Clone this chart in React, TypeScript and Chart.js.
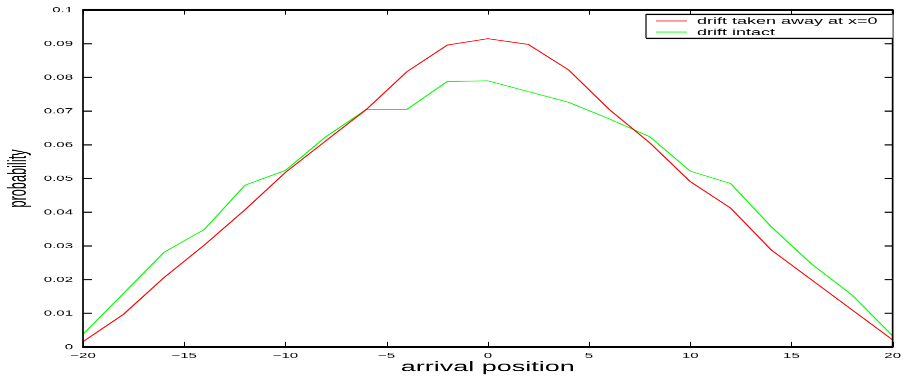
import React, { useEffect, useRef } from "react";
import { Chart, registerables } from "chart.js";

Chart.register(...registerables);

// ---- data ----
const positions = [-20, -18, -16, -14, -12, -10, -8, -6, -4, -2, 0, 2, 4, 6, 8, 10, 12, 14, 16, 18, 20];
const driftRemoved = [0.0016, 0.0097, 0.0206, 0.0303, 0.0407, 0.0518, 0.0612, 0.0705, 0.0817, 0.0896, 0.0915, 0.0898, 0.0822, 0.0705, 0.0606, 0.0491, 0.0412, 0.0288, 0.0199, 0.011, 0.0021];
const driftIntact = [0.0038, 0.0159, 0.0281, 0.0349, 0.048, 0.0524, 0.0624, 0.0705, 0.0705, 0.0788, 0.079, 0.0758, 0.0726, 0.0677, 0.0624, 0.0522, 0.0485, 0.0357, 0.0246, 0.0154, 0.0033];
const xTicks = [-20, -15, -10, -5, 0, 5, 10, 15, 20];
const yTicks = [0, 0.01, 0.02, 0.03, 0.04, 0.05, 0.06, 0.07, 0.08, 0.09, 0.1];
const seriesLabels = ["drift taken away at x=0", "drift intact"];
const seriesColors = ["#ff0000", "#00ff00"];
const xTitle = "arrival position";
const yTitle = "probability";

// internal canvas size (displayed squashed vertically to 909x383)
const W = 909;
const H = 750;
const DISPLAY_H = 383;
const FONT = '"Liberation Sans", Arial, Helvetica, sans-serif';

const framePlugin = {
  id: "frame",
  afterDraw(chart: any) {
    const { ctx, chartArea: a, scales } = chart;
    const xs = scales.x;
    const ys = scales.y;
    ctx.save();
    ctx.strokeStyle = "#000";
    // x ticks (inward, bottom & top)
    ctx.lineWidth = 1;
    xs.ticks.forEach((t: any) => {
      const px = Math.round(xs.getPixelForValue(t.value)) + 0.5;
      ctx.beginPath();
      ctx.moveTo(px, a.bottom);
      ctx.lineTo(px, a.bottom - 10);
      ctx.moveTo(px, a.top);
      ctx.lineTo(px, a.top + 9);
      ctx.stroke();
    });
    // y ticks (inward, left & right)
    ctx.lineWidth = 2.2;
    ys.ticks.forEach((t: any) => {
      const py = ys.getPixelForValue(t.value);
      ctx.beginPath();
      ctx.moveTo(a.left, py);
      ctx.lineTo(a.left + 9, py);
      ctx.moveTo(a.right, py);
      ctx.lineTo(a.right - 8, py);
      ctx.stroke();
    });
    // frame
    ctx.lineWidth = 1.7;
    ctx.beginPath();
    ctx.moveTo(a.left, a.top);
    ctx.lineTo(a.left, a.bottom);
    ctx.moveTo(a.right, a.top);
    ctx.lineTo(a.right, a.bottom);
    ctx.stroke();
    ctx.lineWidth = 3.6;
    ctx.beginPath();
    ctx.moveTo(a.left - 0.8, a.top);
    ctx.lineTo(a.right + 0.8, a.top);
    ctx.moveTo(a.left - 0.8, a.bottom);
    ctx.lineTo(a.right + 0.8, a.bottom);
    ctx.stroke();

    // legend box
    const bx = 646;
    const by = 28;
    const bw = a.right - bx;
    const bh = 47;
    ctx.fillStyle = "#fff";
    ctx.fillRect(bx, by, bw, bh);
    ctx.strokeStyle = "#000";
    ctx.lineWidth = 1.2;
    ctx.beginPath();
    ctx.moveTo(bx, by);
    ctx.lineTo(bx, by + bh);
    ctx.stroke();
    ctx.lineWidth = 2.4;
    ctx.beginPath();
    ctx.moveTo(bx, by);
    ctx.lineTo(bx + bw, by);
    ctx.moveTo(bx, by + bh);
    ctx.lineTo(bx + bw, by + bh);
    ctx.stroke();
    const rows = [41.1, 62.7];
    chart.data.datasets.forEach((ds: any, i: number) => {
      const y = rows[i];
      ctx.strokeStyle = seriesColors[i];
      ctx.globalAlpha = 0.6;
      ctx.lineWidth = 2.4;
      ctx.beginPath();
      ctx.moveTo(656, y);
      ctx.lineTo(687, y);
      ctx.stroke();
      ctx.globalAlpha = 1;
      ctx.fillStyle = "#000";
      ctx.font = `18px ${FONT}`;
      ctx.textBaseline = "middle";
      ctx.textAlign = "left";
      ctx.fillText(ds.label, 697, y + 1);
    });
    ctx.restore();
  },
};

export default function App() {
  const canvasRef = useRef<HTMLCanvasElement | null>(null);

  useEffect(() => {
    const canvas = canvasRef.current;
    if (!canvas) return;
    const chart = new Chart(canvas, {
      type: "line",
      data: {
        datasets: [
          {
            label: seriesLabels[0],
            data: positions.map((x, i) => ({ x, y: driftRemoved[i] })),
            borderColor: seriesColors[0],
            backgroundColor: seriesColors[0],
            borderWidth: 1.5,
            pointRadius: 0,
            tension: 0,
            fill: false,
          },
          {
            label: seriesLabels[1],
            data: positions.map((x, i) => ({ x, y: driftIntact[i] })),
            borderColor: seriesColors[1],
            backgroundColor: seriesColors[1],
            borderWidth: 1.5,
            pointRadius: 0,
            tension: 0,
            fill: false,
          },
        ],
      },
      options: {
        responsive: false,
        animation: false,
        devicePixelRatio: 1,
        events: [],
        layout: { padding: { top: 19.6, right: 12, left: 0, bottom: 0 } },
        plugins: {
          legend: { display: false },
          tooltip: { enabled: false },
          title: { display: false },
        },
        scales: {
          x: {
            type: "linear",
            min: -20,
            max: 20,
            afterBuildTicks: (s: any) => {
              s.ticks = xTicks.map((v) => ({ value: v }));
            },
            afterFit: (s: any) => {
              s.height = H - 679.5;
            },
            grid: { display: false, drawTicks: false },
            border: { display: false },
            ticks: {
              color: "#000",
              font: { family: FONT, size: 15 },
              padding: 8,
              maxRotation: 0,
              autoSkip: false,
              callback: (v: any) => (v < 0 ? "\u2212" + Math.abs(v) : String(v)),
            },
            title: {
              display: true,
              text: xTitle,
              color: "#000",
              font: { family: FONT, size: 27 },
              padding: { top: 0, bottom: 14 },
            },
          },
          y: {
            type: "linear",
            min: 0,
            max: 0.1,
            afterBuildTicks: (s: any) => {
              s.ticks = yTicks.map((v) => ({ value: v }));
            },
            afterFit: (s: any) => {
              s.width = 83;
            },
            grid: { display: false, drawTicks: false },
            border: { display: false },
            ticks: {
              color: "#000",
              font: { family: FONT, size: 15 },
              padding: 10,
              autoSkip: false,
              callback: (v: any) => String(Math.round(v * 100) / 100),
            },
            title: {
              display: true,
              text: yTitle,
              color: "#000",
              font: { family: FONT, size: 25 },
              padding: { top: 4, bottom: 0 },
            },
          },
        },
      },
      plugins: [framePlugin],
    });
    return () => chart.destroy();
  }, []);

  return (
    <div
      style={{
        position: "fixed",
        left: 0,
        top: 0,
        width: W,
        height: DISPLAY_H,
        background: "#fff",
      }}
    >
      <canvas
        ref={canvasRef}
        width={W}
        height={H}
        style={{ width: `${W}px`, height: `${DISPLAY_H}px`, display: "block" }}
      />
    </div>
  );
}
